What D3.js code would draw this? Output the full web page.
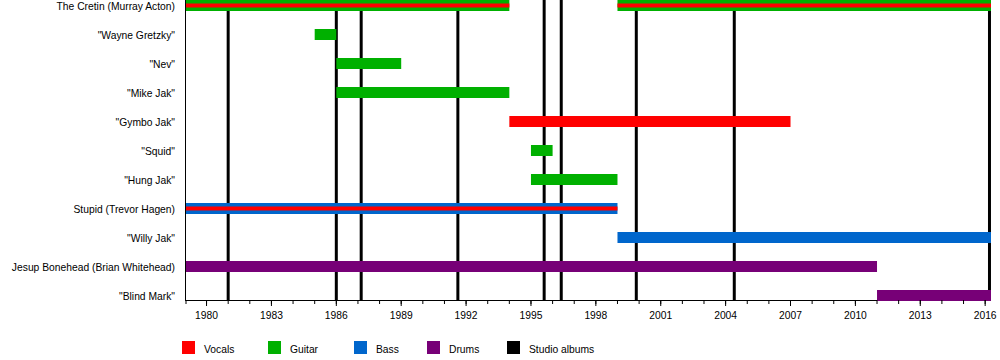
<!DOCTYPE html>
<html>
<head>
<meta charset="utf-8">
<script src="https://cdn.jsdelivr.net/npm/d3@7"></script>
<style>
  html, body { margin: 0; padding: 0; background: #fff; }
  svg { display: block; }
  text { font-family: "Liberation Sans", Arial, Helvetica, sans-serif; fill: #000; }
</style>
</head>
<body>
<svg id="chart" width="1000" height="360"></svg>
<script>
// ---- data ----
const members = [
  "The Cretin (Murray Acton)",
  "\"Wayne Gretzky\"",
  "\"Nev\"",
  "\"Mike Jak\"",
  "\"Gymbo Jak\"",
  "\"Squid\"",
  "\"Hung Jak\"",
  "Stupid (Trevor Hagen)",
  "\"Willy Jak\"",
  "Jesup Bonehead (Brian Whitehead)",
  "\"Blind Mark\""
];
const roles = ["Vocals", "Guitar", "Bass", "Drums"];
const roleColors = ["#ff0000", "#00b000", "#0066cc", "#770077"];
const timelineStart = 1979.05;
const timelineEnd = 2016.27;
// [member, main role, stripe role (or null), start, end]
const spans = [
  ["The Cretin (Murray Acton)", "Guitar", "Vocals", 1979, 1994],
  ["The Cretin (Murray Acton)", "Guitar", "Vocals", 1999, 2016.27],
  ["\"Wayne Gretzky\"", "Guitar", null, 1985, 1986],
  ["\"Nev\"", "Guitar", null, 1986, 1989],
  ["\"Mike Jak\"", "Guitar", null, 1986, 1994],
  ["\"Gymbo Jak\"", "Vocals", null, 1994, 2007],
  ["\"Squid\"", "Guitar", null, 1995, 1996],
  ["\"Hung Jak\"", "Guitar", null, 1995, 1999],
  ["Stupid (Trevor Hagen)", "Bass", "Vocals", 1979, 1999],
  ["\"Willy Jak\"", "Bass", null, 1999, 2016.27],
  ["Jesup Bonehead (Brian Whitehead)", "Drums", null, 1979, 2011],
  ["\"Blind Mark\"", "Drums", null, 2011, 2016.27]
];
const albumYears = [1981.0, 1986.0, 1987.15, 1991.62, 1995.61, 1996.4, 1999.87, 2004.4, 2016.2];
const majorTicks = [1980, 1983, 1986, 1989, 1992, 1995, 1998, 2001, 2004, 2007, 2010, 2013, 2016];
const minorTicks = [1979, 1980, 1981, 1982, 1983, 1984, 1985, 1986, 1987, 1988, 1989, 1990, 1991,
  1992, 1993, 1994, 1995, 1996, 1997, 1998, 1999, 2000, 2001, 2002, 2003, 2004, 2005, 2006,
  2007, 2008, 2009, 2010, 2011, 2012, 2013, 2014, 2015, 2016];
const legendItems = ["Vocals", "Guitar", "Bass", "Drums", "Studio albums"];
const legendColors = ["#ff0000", "#00b000", "#0066cc", "#770077", "#000000"];

// ---- layout ----
const svg = d3.select("#chart");
const plotLeft = 186, plotRight = 991, plotTop = 0, plotBottom = 300;
const x = d3.scaleLinear().domain([timelineStart, timelineEnd]).range([plotLeft, plotRight]).clamp(true);
const y = d3.scalePoint().domain(members).range([5.5, 295.5]);
const color = d3.scaleOrdinal().domain(roles).range(roleColors);
const barH = 11, stripeH = 4;

// album lines (behind bars)
svg.append("g").selectAll("line").data(albumYears).join("line")
  .attr("x1", d => x(d)).attr("x2", d => x(d))
  .attr("y1", plotTop).attr("y2", plotBottom)
  .attr("stroke", "#000").attr("stroke-width", 3);

// axis lines
svg.append("line").attr("x1", plotLeft - 0.5).attr("x2", plotLeft - 0.5)
  .attr("y1", plotTop).attr("y2", plotBottom + 0.5).attr("stroke", "#000").attr("stroke-width", 1);
svg.append("line").attr("x1", plotLeft - 1).attr("x2", plotRight)
  .attr("y1", plotBottom + 0.5).attr("y2", plotBottom + 0.5).attr("stroke", "#000").attr("stroke-width", 1);

// bars
const bars = svg.append("g");
bars.selectAll("rect.main").data(spans).join("rect").attr("class", "main")
  .attr("x", d => x(d[3])).attr("width", d => x(d[4]) - x(d[3]))
  .attr("y", d => y(d[0]) - barH / 2).attr("height", barH)
  .attr("fill", d => color(d[1]));
bars.selectAll("rect.stripe").data(spans.filter(d => d[2])).join("rect").attr("class", "stripe")
  .attr("x", d => x(d[3])).attr("width", d => x(d[4]) - x(d[3]))
  .attr("y", d => y(d[0]) - stripeH / 2).attr("height", stripeH)
  .attr("fill", d => color(d[2]));

// row labels
svg.append("g").selectAll("text").data(members).join("text")
  .attr("x", 175).attr("y", d => y(d) + 4)
  .attr("text-anchor", "end").attr("font-size", "10.3px")
  .text(d => d);

// ticks
const axisG = svg.append("g");
axisG.selectAll("line.minor").data(minorTicks).join("line").attr("class", "minor")
  .attr("x1", d => x(d)).attr("x2", d => x(d))
  .attr("y1", plotBottom).attr("y2", plotBottom + 4)
  .attr("stroke", "#000").attr("stroke-width", 1);
axisG.selectAll("line.major").data(majorTicks).join("line").attr("class", "major")
  .attr("x1", d => x(d)).attr("x2", d => x(d))
  .attr("y1", plotBottom).attr("y2", plotBottom + 6)
  .attr("stroke", "#000").attr("stroke-width", 1);
axisG.selectAll("text").data(majorTicks).join("text")
  .attr("x", d => x(d)).attr("y", 319)
  .attr("text-anchor", "middle").attr("font-size", "10.3px")
  .text(d => String(d));

// legend
const legendX = [182, 268, 354, 427, 507];
const lg = svg.append("g").selectAll("g").data(legendItems).join("g")
  .attr("transform", (d, i) => `translate(${legendX[i]},341)`);
lg.append("rect").attr("width", 13).attr("height", 13)
  .attr("fill", (d, i) => legendColors[i]);
lg.append("text").attr("x", 22).attr("y", 12).attr("font-size", "10.3px").text(d => d);
</script>
</body>
</html>
